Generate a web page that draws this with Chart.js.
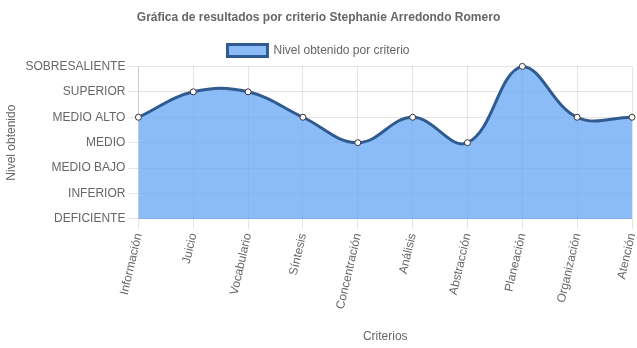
<!DOCTYPE html>
<html><head><meta charset="utf-8">
<script src="https://cdn.jsdelivr.net/npm/chart.js@4/dist/chart.umd.min.js"></script>
<style>html,body{margin:0;padding:0;background:#fff}#w{width:637px;height:348px}</style>
</head><body><div id="w"><canvas id="c"></canvas></div>
<script>
const categories = ["Información","Juicio","Vocabulario","Síntesis","Concentración","Análisis","Abstracción","Planeación","Organización","Atención"];
const levels = ["DEFICIENTE","INFERIOR","MEDIO BAJO","MEDIO","MEDIO ALTO","SUPERIOR","SOBRESALIENTE"];
const values = [4,5,5,4,3,4,3,6,4,4];

Chart.defaults.font.family = "'Liberation Sans', Arial, sans-serif";
Chart.defaults.font.size = 12;
Chart.defaults.color = "#666";

new Chart(document.getElementById('c'), {
  type: 'line',
  data: {
    labels: categories,
    datasets: [{
      label: 'Nivel obtenido por criterio',
      data: values,
      fill: 'origin',
      clip: false,
      backgroundColor: 'rgba(100,165,245,0.75)',
      borderColor: '#2f5b91',
      borderWidth: 3,
      tension: 0.4,
      pointRadius: 3,
      pointBackgroundColor: '#fff',
      pointBorderColor: '#333',
      pointBorderWidth: 1
    }]
  },
  options: {
    responsive: true,
    maintainAspectRatio: false,
    animation: false,
    layout: {padding: {right: 0, left: 0, top: 0, bottom: 0}},
    plugins: {
      title: {display: true, text: 'Gráfica de resultados por criterio Stephanie Arredondo Romero', font: {weight: 'bold', size: 12}, padding: {top: 10, bottom: 10}},
      legend: {labels: {boxWidth: 40, boxHeight: 12, font: {size: 12}}},
      tooltip: {enabled: false}
    },
    scales: {
      x: {
        grid: {color: 'rgba(0,0,0,0.1)', tickLength: 10},
        ticks: {minRotation: 77, maxRotation: 77},
        title: {display: true, text: 'Criterios', padding: {top: 16, bottom: 4}},
        afterFit: s => { s.paddingRight = 0; }
      },
      y: {
        min: 0, max: 6,
        grid: {color: 'rgba(0,0,0,0.1)', tickLength: 10},
        ticks: {stepSize: 1, callback: v => levels[v]},
        title: {display: true, text: 'Nivel obtenido'}
      }
    }
  }
});
</script></body></html>
